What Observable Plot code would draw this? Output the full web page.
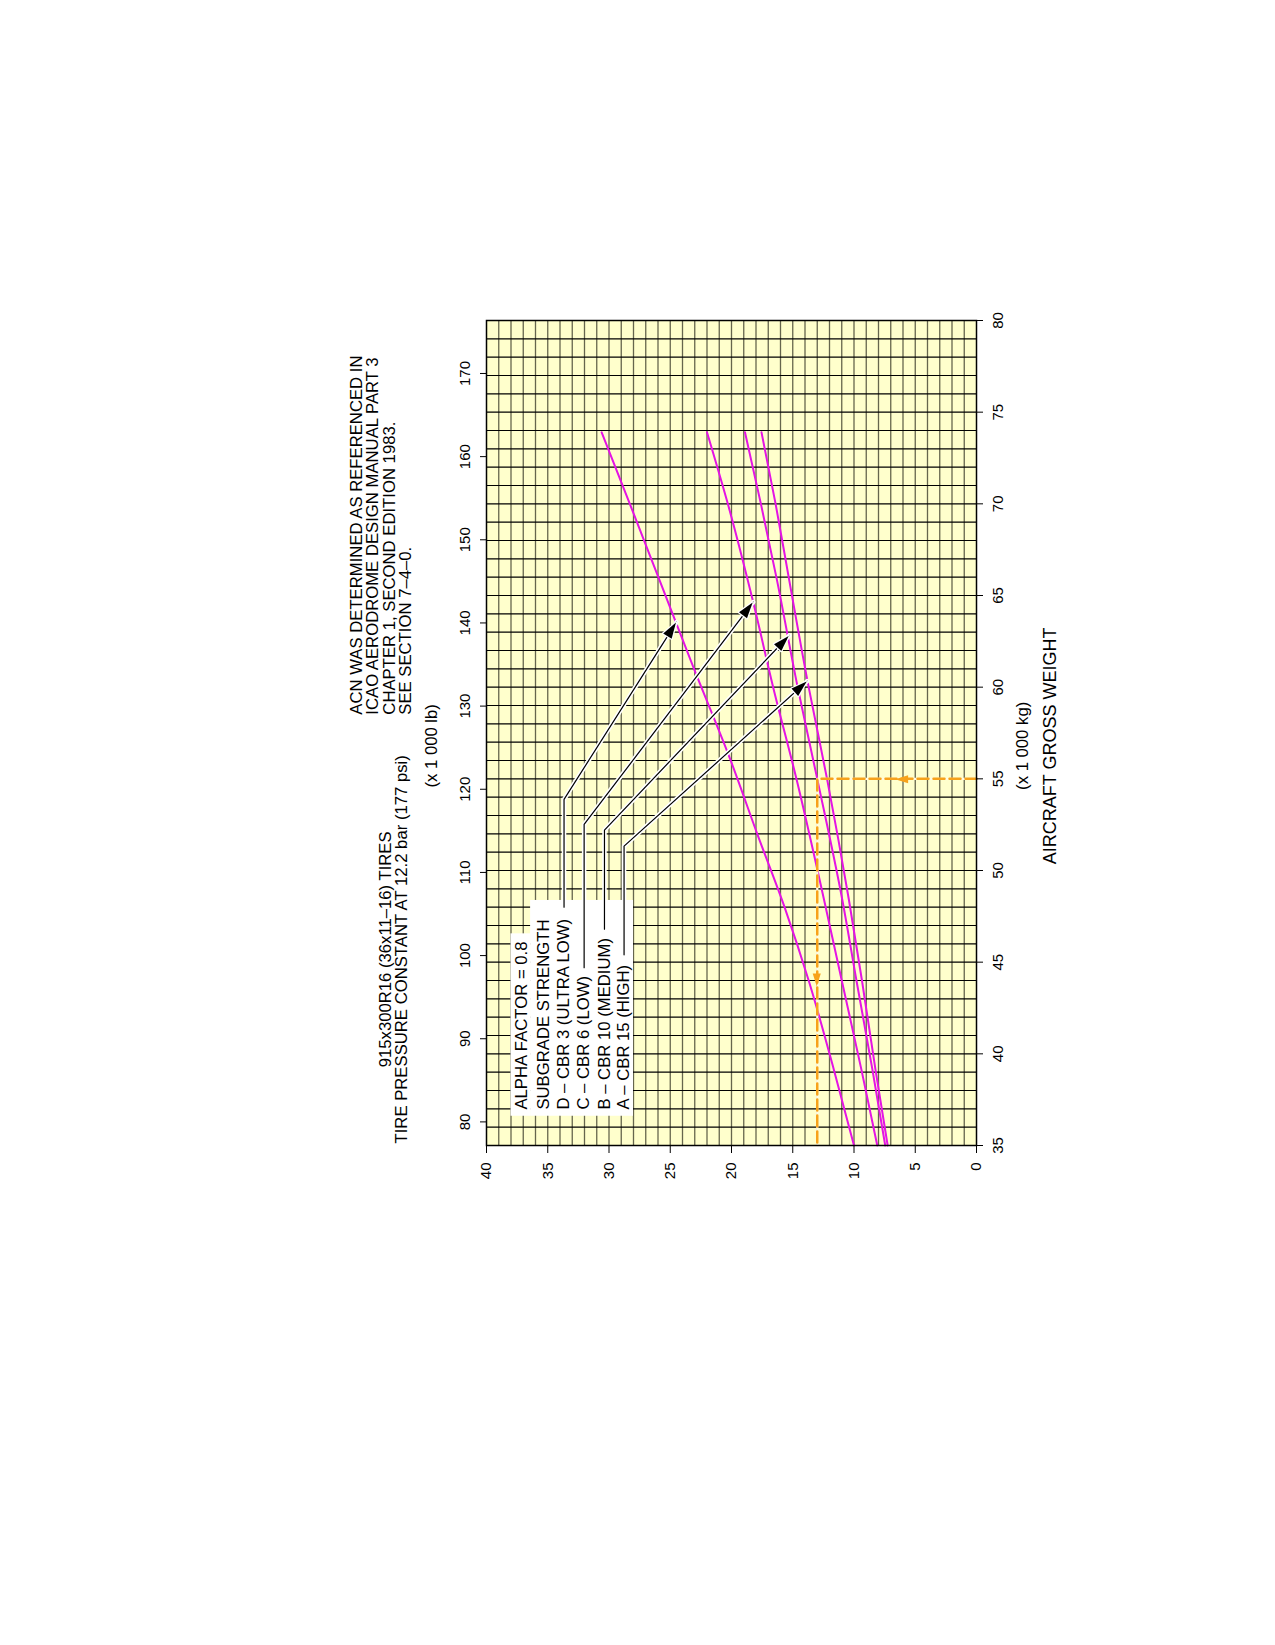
<!DOCTYPE html>
<html><head><meta charset="utf-8">
<script src="https://cdn.jsdelivr.net/npm/d3@7"></script>
<script src="https://cdn.jsdelivr.net/npm/@observablehq/plot@0.6"></script>
<style>
html,body{margin:0;padding:0;background:#fff;}
#wrap{position:relative;width:1275px;height:1645px;overflow:hidden;background:#fff;}
</style></head><body><div id="wrap"></div>
<script>
// ---------- axis ticks ----------
const kgTicks = [35, 40, 45, 50, 55, 60, 65, 70, 75, 80];
const lbTicks = [80, 90, 100, 110, 120, 130, 140, 150, 160, 170];
const acnTicks = [0, 5, 10, 15, 20, 25, 30, 35, 40];
const KG_PER_LB = 0.45359237;
const weightGrid = d3.range(36, 80, 1);
const acnGrid = d3.range(1, 40, 1);

// ---------- ACN curves (weight in 1000 kg, ACN) ----------
const weightD = [35, 39.15, 44, 47.87, 52, 56.06, 61.06, 65.88, 70, 73.9];
const acnD    = [10.0, 11.65, 13.7, 15.6, 17.9, 20.1, 23.1, 25.9, 28.3, 30.6];
const weightC = [35, 39.15, 44, 48.42, 55, 60, 64.64, 70, 73.9];
const acnC    = [8.1, 9.4, 11.0, 12.45, 14.7, 16.6, 18.23, 20.3, 22.0];
const weightB = [35, 39.15, 44, 48.42, 55, 60, 65.88, 70, 73.9];
const acnB    = [7.45, 8.5, 9.8, 10.96, 13.0, 14.6, 16.3, 17.6, 18.9];
const weightA = [35, 39.15, 44, 48.42, 55, 60, 65.88, 70, 73.9];
const acnA    = [7.25, 8.25, 9.35, 10.42, 12.2, 13.7, 15.3, 16.4, 17.55];

// ---------- example reading (orange dashed) ----------
const exampleWeight = [55, 55, 35];
const exampleAcn = [0, 13, 13];
const exampleArrowFromW = [55, 50];
const exampleArrowFromAcn = [0, 13];
const exampleArrowTipW = [55, 43.7];
const exampleArrowTipAcn = [6.6, 13];

// ---------- legend ----------
const legendLabels = ["ALPHA FACTOR = 0.8", "SUBGRADE STRENGTH", "D – CBR 3 (ULTRA LOW)", "C – CBR 6 (LOW)", "B – CBR 10 (MEDIUM)", "A – CBR 15 (HIGH)"];
const legendAcn = [37.17, 35.32, 33.67, 32.03, 30.37, 28.77];
const legendStartW = 36.96;
const boxW1 = [36.65, 36.65];
const boxW2 = [46.6, 48.42];
const boxAcn1 = [36.4, 28.0];
const boxAcn2 = [38.0, 36.4];
const leaderStartW = [48.0, 44.7, 46.8, 45.4];
const leaderKneeW  = [53.88, 52.51, 52.2, 51.33];
const leaderTipW   = [63.55, 64.64, 62.82, 60.33];
const leaderTipAcn = [24.49, 18.23, 15.29, 13.82];

// ---------- titles ----------
const titleCenterLines = ["915x300R16 (36x11–16) TIRES", "TIRE PRESSURE CONSTANT AT 12.2 bar (177 psi)"];
const titleCenterDy = [-101, -84.5];
const titleCenterW = 45.7;
const noteLines = ["ACN WAS DETERMINED AS REFERENCED IN", "ICAO AERODROME DESIGN MANUAL PART 3", "CHAPTER 1, SECOND EDITION 1983.", "SEE SECTION 7–4–0."];
const noteDy = [-130, -113.6, -97.2, -80.8];
const noteStartW = 58.5;
const axisTitleW = 56.8;

// ---------- build tables ----------
const curves = [
  ["D", weightD, acnD], ["C", weightC, acnC], ["B", weightB, acnB], ["A", weightA, acnA]
].flatMap(([k, ws, as]) => ws.map((w, i) => ({curve: k, w, acn: as[i]})));

const example = exampleWeight.map((w, i) => ({w, acn: exampleAcn[i]}));

const leaders = leaderStartW.flatMap((s, i) => {
  const a = legendAcn[i + 2];
  return [
    {id: i, w: s, acn: a},
    {id: i, w: leaderKneeW[i], acn: a},
    {id: i, w: leaderTipW[i], acn: leaderTipAcn[i]}
  ];
});
const leaderHeads = leaderStartW.map((s, i) => ({fw: leaderKneeW[i], fa: legendAcn[i + 2], tw: leaderTipW[i], ta: leaderTipAcn[i]}));
const exampleHeads = exampleArrowTipW.map((w, i) => ({fw: exampleArrowFromW[i], fa: exampleArrowFromAcn[i], tw: w, ta: exampleArrowTipAcn[i]}));
const legendRows = legendLabels.map((t, i) => ({t, acn: legendAcn[i]}));
const boxes = boxW1.map((w, i) => ({w1: w, w2: boxW2[i], a1: boxAcn1[i], a2: boxAcn2[i]}));

function arrowHeads(list, fill, len, half, halo) {
  return (index, scales) => {
    const ns = "http://www.w3.org/2000/svg";
    const g = document.createElementNS(ns, "g");
    for (const a of list) {
      const x0 = scales.x(a.fw), y0 = scales.y(a.fa), x1 = scales.x(a.tw), y1 = scales.y(a.ta);
      const dx = x1 - x0, dy = y1 - y0, L = Math.hypot(dx, dy), ux = dx / L, uy = dy / L;
      const bx = x1 - ux * len, by = y1 - uy * len;
      const poly = document.createElementNS(ns, "polygon");
      poly.setAttribute("points", `${x1},${y1} ${bx - uy * half},${by + ux * half} ${bx + uy * half},${by - ux * half}`);
      poly.setAttribute("fill", fill);
      if (halo) {
        poly.setAttribute("stroke", "#fff");
        poly.setAttribute("stroke-width", halo);
        poly.setAttribute("stroke-linejoin", "round");
        poly.setAttribute("paint-order", "stroke");
      }
      g.appendChild(poly);
    }
    return g;
  };
}

const ML = 60, MR = 30, MT = 160, MB = 120;
const FONT = "'Liberation Sans', Arial, Helvetica, sans-serif";

const chart = Plot.plot({
  width: 915,
  height: 770,
  marginLeft: ML, marginRight: MR, marginTop: MT, marginBottom: MB,
  x: {domain: [35, 80]},
  y: {domain: [0, 40]},
  style: {fontFamily: FONT, fontSize: "15px", background: "transparent", color: "#000", overflow: "visible"},
  marks: [
    Plot.frame({fill: "#ffffcc", stroke: "none"}),
    Plot.ruleY(acnGrid, {stroke: "#66664d", strokeWidth: 1.3}),
    Plot.ruleX(weightGrid, {stroke: "#000", strokeWidth: 1.1}),
    Plot.rect(boxes, {x1: "w1", x2: "w2", y1: "a1", y2: "a2", fill: "#fff"}),
    Plot.line(curves, {x: "w", y: "acn", z: "curve", stroke: "#e414e4", strokeWidth: 2, curve: "monotone-x"}),
    Plot.line(example, {x: "w", y: "acn", stroke: "#fffbe6", strokeWidth: 2.2}),
    Plot.line(example, {x: "w", y: "acn", stroke: "#f7a21b", strokeWidth: 2.5, strokeDasharray: "11,5"}),
    arrowHeads(exampleHeads, "#f7a21b", 13, 4, 0),
    Plot.line(leaders, {x: "w", y: "acn", z: "id", stroke: "#fff", strokeWidth: 4.5}),
    Plot.line(leaders, {x: "w", y: "acn", z: "id", stroke: "#000", strokeWidth: 1.2}),
    arrowHeads(leaderHeads, "#000", 16, 5, 2.5),
    Plot.text(legendRows, {x: legendStartW, y: "acn", text: "t", textAnchor: "start", lineAnchor: "middle", fontSize: 16.7}),
    Plot.frame({stroke: "#000", strokeWidth: 1.5}),
    Plot.axisX({anchor: "bottom", ticks: kgTicks, tickSize: 7, tickPadding: 9, label: null, tickFormat: d => String(d)}),
    Plot.axisX({anchor: "top", ticks: lbTicks.map(d => d * KG_PER_LB), tickSize: 7, tickPadding: 10, label: null, tickFormat: d => String(Math.round(d / KG_PER_LB))}),
    Plot.axisY({anchor: "left", ticks: acnTicks, tickSize: 7, tickPadding: 10, label: null, tickFormat: d => String(d)}),
    Plot.text(["(x 1 000 kg)"], {x: axisTitleW, frameAnchor: "bottom", dy: 45.7, lineAnchor: "middle", fontSize: 16.7}),
    Plot.text(["AIRCRAFT GROSS WEIGHT"], {x: axisTitleW, frameAnchor: "bottom", dy: 74, lineAnchor: "middle", fontSize: 18}),
    Plot.text(["(x 1 000 lb)"], {x: axisTitleW, frameAnchor: "top", dy: -54.5, lineAnchor: "middle", fontSize: 16.7}),
    ...titleCenterLines.map((t, i) => Plot.text([t], {x: titleCenterW, frameAnchor: "top", dy: titleCenterDy[i], lineAnchor: "middle", textAnchor: "middle", fontSize: 16.7})),
    ...noteLines.map((t, i) => Plot.text([t], {x: noteStartW, frameAnchor: "top", dy: noteDy[i], lineAnchor: "middle", textAnchor: "start", fontSize: 16.7}))
  ]
});

// rotate the whole chart 90° counter-clockwise, as in the reference
const tx = 486 - MT, ty = 1146 + ML;
chart.style.position = "absolute";
chart.style.left = "0px";
chart.style.top = "0px";
chart.style.maxWidth = "none";
chart.style.transformOrigin = "0 0";
chart.style.transform = `translate(${tx}px, ${ty}px) rotate(-90deg)`;
document.getElementById("wrap").appendChild(chart);
</script>
</body></html>
